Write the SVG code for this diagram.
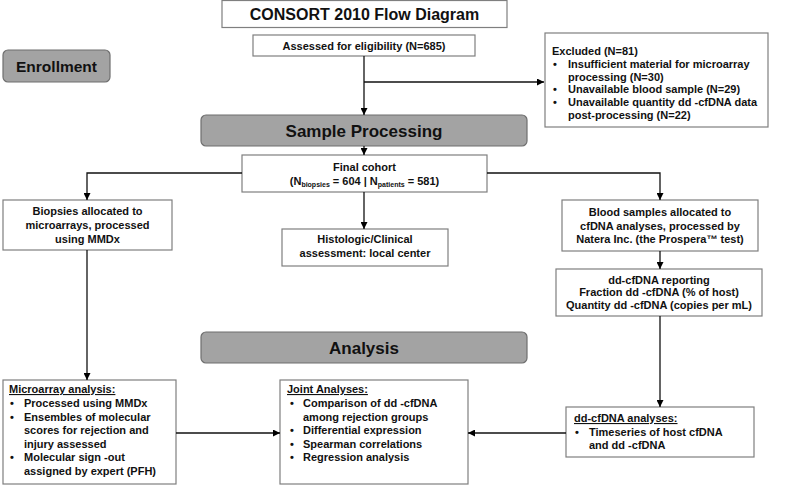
<svg xmlns="http://www.w3.org/2000/svg" width="800" height="485" viewBox="0 0 800 485">
<defs>
<marker id="ah" viewBox="0 0 10 10" refX="10" refY="5" markerWidth="7" markerHeight="7" markerUnits="userSpaceOnUse" orient="auto">
<path d="M0,0 L10,5 L0,10 z" fill="#000"/>
</marker>
<style>
text{font-family:"Liberation Sans",Arial,sans-serif;font-weight:bold;fill:#111;}
.box{fill:#fff;stroke:#7f7f7f;stroke-width:1.2;}
.phase{fill:#a3a3a3;stroke:#6f6f6f;stroke-width:1.2;}
.t{font-size:11px;}
.c{text-anchor:middle;}
.h{font-size:17px;text-anchor:middle;}
.u{text-decoration:underline;}
.sub{font-size:7px;}
.ln{fill:none;stroke:#111;stroke-width:1.3;}
</style>
</defs>
<rect width="800" height="485" fill="#fff"/>

<g id="title">
<rect class="box" x="222" y="0.5" width="285" height="27"/>
<text x="364.5" y="20" class="c" style="font-size:16px">CONSORT 2010 Flow Diagram</text>
</g>

<g id="enrollment">
<rect class="phase" x="3" y="50" width="107" height="32" rx="5"/>
<text x="56.5" y="72" class="c" style="font-size:15.5px">Enrollment</text>
</g>

<g id="assessed">
<rect class="box" x="253" y="35" width="222" height="21"/>
<text x="364" y="50" class="t c">Assessed for eligibility (N=685)</text>
</g>

<g id="excluded">
<rect class="box" x="545" y="33" width="223" height="94"/>
<text x="552" y="55" class="t">Excluded (N=81)</text>
<text x="553" y="68" class="t">•</text><text x="568" y="68" class="t">Insufficient material for microarray</text>
<text x="568" y="80.5" class="t">processing (N=30)</text>
<text x="553" y="93" class="t">•</text><text x="568" y="93" class="t">Unavailable blood sample (N=29)</text>
<text x="553" y="106" class="t">•</text><text x="568" y="106" class="t">Unavailable quantity dd -cfDNA data</text>
<text x="568" y="119" class="t">post-processing (N=22)</text>
</g>

<g id="sample-processing">
<rect class="phase" x="201" y="115" width="326" height="31" rx="5"/>
<text x="364" y="137" class="h">Sample Processing</text>
</g>

<g id="final-cohort">
<rect class="box" x="242" y="155" width="245" height="37"/>
<text x="364.5" y="171" class="t c">Final cohort</text>
<text x="364.5" y="185" class="t c">(N<tspan class="sub" dy="2">biopsies</tspan><tspan dy="-2"> = 604 | N</tspan><tspan class="sub" dy="2">patients</tspan><tspan dy="-2"> = 581)</tspan></text>
</g>

<g id="biopsies">
<rect class="box" x="3" y="200" width="169" height="50"/>
<text x="87.5" y="215" class="t c">Biopsies allocated to</text>
<text x="87.5" y="229" class="t c">microarrays, processed</text>
<text x="87.5" y="243" class="t c">using MMDx</text>
</g>

<g id="histologic">
<rect class="box" x="282" y="229" width="166" height="37"/>
<text x="365" y="243" class="t c">Histologic/Clinical</text>
<text x="365" y="257" class="t c">assessment: local center</text>
</g>

<g id="blood">
<rect class="box" x="562" y="200" width="196" height="51"/>
<text x="660" y="216" class="t c">Blood samples allocated to</text>
<text x="660" y="230" class="t c">cfDNA analyses, processed by</text>
<text x="660" y="243" class="t c">Natera Inc. (the Prospera™ test)</text>
</g>

<g id="reporting">
<rect class="box" x="556" y="269" width="206" height="47"/>
<text x="659" y="284" class="t c">dd-cfDNA reporting</text>
<text x="659" y="296" class="t c">Fraction dd -cfDNA (% of host)</text>
<text x="659" y="309" class="t c">Quantity dd -cfDNA (copies per mL)</text>
</g>

<g id="analysis">
<rect class="phase" x="201" y="332" width="326" height="31" rx="5"/>
<text x="364" y="354" class="h">Analysis</text>
</g>

<g id="microarray">
<rect class="box" x="3" y="380" width="173" height="104"/>
<text x="9" y="393" class="t u">Microarray analysis:</text>
<text x="10" y="407" class="t">•</text><text x="24" y="407" class="t">Processed using  MMDx</text>
<text x="10" y="420.5" class="t">•</text><text x="24" y="420.5" class="t">Ensembles of molecular</text>
<text x="24" y="434" class="t">scores for rejection and</text>
<text x="24" y="447.5" class="t">injury assessed</text>
<text x="10" y="461" class="t">•</text><text x="24" y="461" class="t">Molecular sign -out</text>
<text x="24" y="474.5" class="t">assigned by expert (PFH)</text>
</g>

<g id="joint">
<rect class="box" x="280" y="380" width="188" height="104"/>
<text x="287" y="393" class="t u">Joint Analyses:</text>
<text x="290" y="407" class="t">•</text><text x="303" y="407" class="t">Comparison of dd -cfDNA</text>
<text x="303" y="420.5" class="t">among rejection groups</text>
<text x="290" y="434" class="t">•</text><text x="303" y="434" class="t">Differential expression</text>
<text x="290" y="447.5" class="t">•</text><text x="303" y="447.5" class="t">Spearman correlations</text>
<text x="290" y="461" class="t">•</text><text x="303" y="461" class="t">Regression analysis</text>
</g>

<g id="ddcfdna-analyses">
<rect class="box" x="566" y="407" width="188" height="50"/>
<text x="574" y="422" class="t u">dd-cfDNA analyses:</text>
<text x="575" y="436" class="t">•</text><text x="589" y="436" class="t">Timeseries of host cfDNA</text>
<text x="589" y="449" class="t">and dd -cfDNA</text>
</g>

<g id="connectors">
<path class="ln" d="M364,56 V115" marker-end="url(#ah)"/>
<path class="ln" d="M364,82 H544" marker-end="url(#ah)"/>
<path class="ln" d="M364,146 V155" marker-end="url(#ah)"/>
<path class="ln" d="M242,173 H87 V200" marker-end="url(#ah)"/>
<path class="ln" d="M487,173 H660 V200" marker-end="url(#ah)"/>
<path class="ln" d="M364,192 V229" marker-end="url(#ah)"/>
<path class="ln" d="M87,250 V380" marker-end="url(#ah)"/>
<path class="ln" d="M660,251 V269" marker-end="url(#ah)"/>
<path class="ln" d="M660,316 V407" marker-end="url(#ah)"/>
<path class="ln" d="M176,433 H280" marker-end="url(#ah)"/>
<path class="ln" d="M566,433 H468" marker-end="url(#ah)"/>
</g>
</svg>
